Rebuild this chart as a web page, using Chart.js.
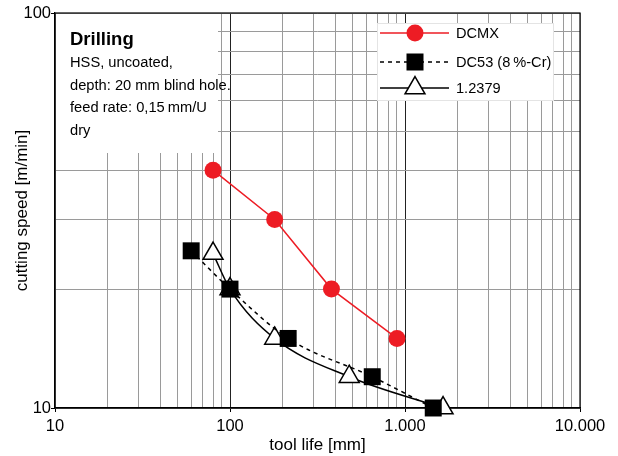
<!DOCTYPE html>
<html><head><meta charset="utf-8">
<script src="https://cdn.jsdelivr.net/npm/chart.js@4.4.1/dist/chart.umd.min.js"></script>
<style>html,body{margin:0;padding:0;background:#fff;}#wrap{width:618px;height:456px;}</style>
</head><body><div id="wrap"><canvas id="c" width="618" height="456"></canvas></div>
<script>
const dcmxLife = [80, 180, 380, 900];
const dcmxSpeed = [40, 30, 20, 15];
const dc53Life = [60, 100, 215, 650, 1450];
const dc53Speed = [25, 20, 15, 12, 10];
const steelLife = [80, 100, 180, 480, 1650];
const steelSpeed = [24.6, 20, 15, 12, 10];
const seriesNames = ['DCMX', 'DC53 (8\u2009%-Cr)', '1.2379'];
const xGridValues = [10,20,30,40,50,60,70,80,90,100,200,300,400,500,600,700,800,900,1000,2000,3000,4000,5000,6000,7000,8000,9000,10000];
const yGridValues = [10,20,30,40,50,60,70,80,90,100];
const xTickLabels = {10: '10', 100: '100', 1000: '1.000', 10000: '10.000'};
const yTickLabels = {10: '10', 100: '100'};
const infoTitle = 'Drilling';
const infoLines = ['HSS, uncoated,', 'depth: 20 mm blind hole.', 'feed rate: 0,15\u2009mm/U', 'dry'];

const FONT = "'Liberation Sans', Arial, sans-serif";
const RED = '#ED1C24';
const pts = (xs, ys) => xs.map((x, i) => ({x: x, y: ys[i]}));

function drawMarker(ctx, type, x, y) {
  ctx.save();
  ctx.lineWidth = 1.5;
  if (type === 'circle') {
    ctx.fillStyle = RED; ctx.beginPath(); ctx.arc(x, y, 8.5, 0, Math.PI * 2); ctx.fill();
  } else if (type === 'rect') {
    ctx.fillStyle = '#000'; ctx.fillRect(x - 8.5, y - 8.5, 17, 17);
  } else {
    const r = 11.5;
    ctx.fillStyle = '#fff'; ctx.strokeStyle = '#000';
    ctx.beginPath();
    ctx.moveTo(x, y - r);
    ctx.lineTo(x + r * Math.sin(2 * Math.PI / 3), y + r / 2);
    ctx.lineTo(x - r * Math.sin(2 * Math.PI / 3), y + r / 2);
    ctx.closePath(); ctx.fill(); ctx.stroke();
  }
  ctx.restore();
}

const overlay = {
  id: 'overlay',
  beforeDatasetsDraw(chart) {
    const {ctx, chartArea: a} = chart;
    ctx.save();
    ctx.fillStyle = '#fff';
    ctx.fillRect(a.left + 1, a.top + 1, 162, 139);
    // legend box
    const lx = 377, ly = 23, lw = 176, lh = 77;
    ctx.fillRect(lx, ly, lw, lh);
    ctx.strokeStyle = '#e4e4e4'; ctx.lineWidth = 1;
    ctx.strokeRect(lx + 0.5, ly + 0.5, lw, lh);
    // plot border
    ctx.strokeStyle = '#000'; ctx.lineWidth = 1.2;
    ctx.strokeRect(a.left, a.top, a.right - a.left, a.bottom - a.top);
    // info text
    ctx.fillStyle = '#000';
    ctx.textBaseline = 'middle'; ctx.textAlign = 'left';
    ctx.font = 'bold 18.5px ' + FONT;
    ctx.fillText(infoTitle, 70, 40);
    ctx.font = '14.7px ' + FONT;
    infoLines.forEach((t, i) => ctx.fillText(t, 70, 63 + i * 22.5));
    // legend entries
    const rows = [33, 62, 88];
    const types = ['circle', 'rect', 'triangle'];
    const colors = [RED, '#000', '#000'];
    const dashes = [[], [4, 4], []];
    rows.forEach((ry, i) => {
      ctx.save();
      ctx.strokeStyle = colors[i]; ctx.lineWidth = 1.5; ctx.setLineDash(dashes[i]);
      ctx.beginPath(); ctx.moveTo(380, ry); ctx.lineTo(449, ry); ctx.stroke();
      ctx.restore();
      drawMarker(ctx, types[i], 415, ry);
      ctx.fillStyle = '#000'; ctx.font = '14.6px ' + FONT;
      ctx.fillText(seriesNames[i], 456, ry + 1);
    });
    ctx.restore();
  }
};

new Chart(document.getElementById('c'), {
  type: 'line',
  data: {
    datasets: [
      {label: seriesNames[0], data: pts(dcmxLife, dcmxSpeed), borderColor: RED, backgroundColor: RED,
       borderWidth: 1.5, pointStyle: 'circle', pointRadius: 8.5, pointBorderWidth: 0, tension: 0, clip: false, order: 3},
      {label: seriesNames[1], data: pts(dc53Life, dc53Speed), borderColor: '#000', backgroundColor: '#000',
       borderWidth: 1.5, borderDash: [4, 4], pointStyle: 'rect', pointRadius: 12, pointBorderWidth: 0,
       cubicInterpolationMode: 'monotone', clip: false, order: 1},
      {label: seriesNames[2], data: pts(steelLife, steelSpeed), borderColor: '#000', backgroundColor: '#fff',
       borderWidth: 1.5, pointStyle: 'triangle', pointRadius: 11.5, pointBorderWidth: 1.5, pointBorderColor: '#000',
       cubicInterpolationMode: 'monotone', clip: false, order: 2}
    ]
  },
  options: {
    responsive: false, animation: false, devicePixelRatio: 1,
    layout: {padding: {top: 13, right: 38, left: 0, bottom: 0}},
    plugins: {legend: {display: false}, tooltip: {enabled: false}},
    scales: {
      x: {
        type: 'logarithmic', min: 10, max: 10000,
        afterBuildTicks(s) { s.ticks = xGridValues.map(v => ({value: v})); },
        afterFit(s) { s.height = 48; },
        border: {display: true, color: '#000', width: 1.2},
        grid: {
          color: c => (c.tick && (c.tick.value === 100 || c.tick.value === 1000)) ? '#222' : '#9a9a9a',
          lineWidth: 1, tickLength: 4,
          tickColor: c => (c.tick && xTickLabels[c.tick.value]) ? '#000' : 'rgba(0,0,0,0)'
        },
        ticks: {
          autoSkip: false, maxRotation: 0, padding: 5, color: '#000',
          font: {family: FONT, size: 16.5},
          callback: v => xTickLabels[v] || ''
        },
        title: {display: true, text: 'tool life [mm]', color: '#000', font: {family: FONT, size: 17},
                padding: {top: 0, bottom: 0}}
      },
      y: {
        type: 'logarithmic', min: 10, max: 100,
        afterBuildTicks(s) { s.ticks = yGridValues.map(v => ({value: v})); },
        afterFit(s) { s.width = 55; },
        border: {display: true, color: '#000', width: 1.2},
        grid: {
          color: '#9a9a9a', lineWidth: 1, tickLength: 4,
          tickColor: c => (c.tick && yTickLabels[c.tick.value]) ? '#000' : 'rgba(0,0,0,0)'
        },
        ticks: {
          autoSkip: false, padding: 0, color: '#000',
          font: {family: FONT, size: 16.5},
          callback: v => yTickLabels[v] || ''
        },
        title: {display: true, text: 'cutting speed [m/min]', color: '#000', font: {family: FONT, size: 17},
                padding: {top: 12, bottom: 0}}
      }
    }
  },
  plugins: [overlay]
});
</script>
</body></html>
